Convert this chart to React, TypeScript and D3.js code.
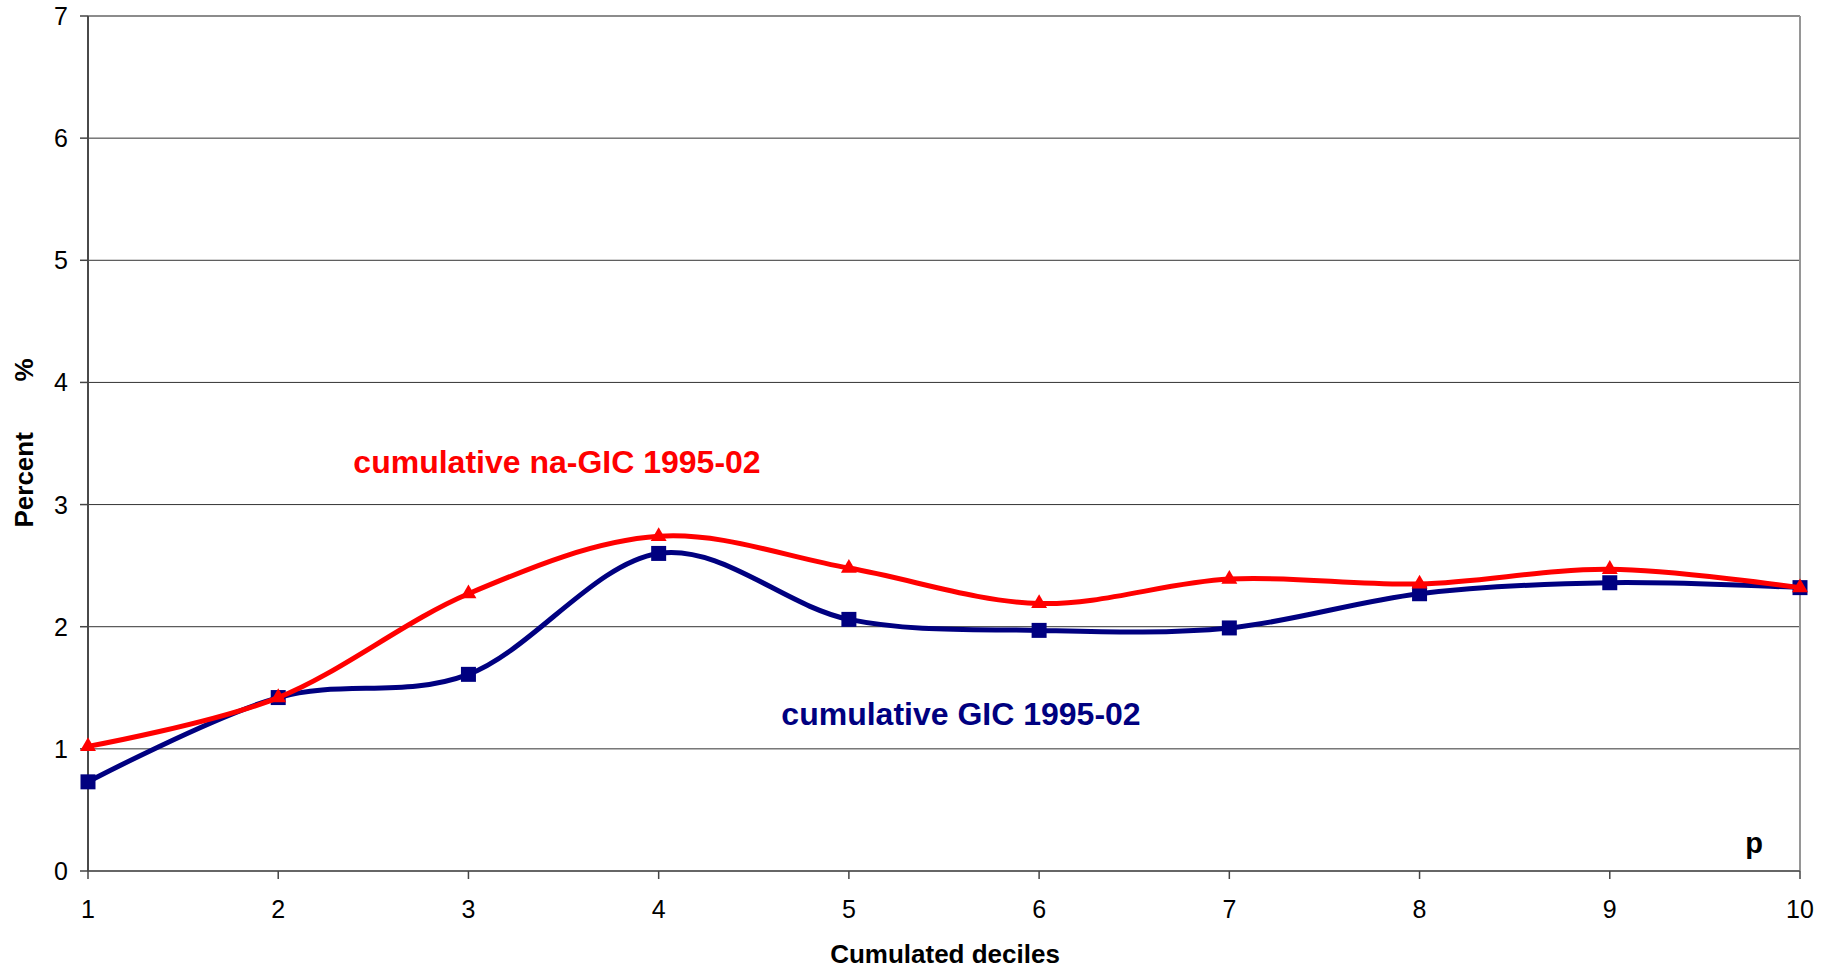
import * as d3 from 'd3';

const DECILES = [1, 2, 3, 4, 5, 6, 7, 8, 9, 10];
const GIC = [0.73, 1.42, 1.61, 2.6, 2.06, 1.97, 1.99, 2.27, 2.36, 2.32];
const NA_GIC = [1.02, 1.42, 2.27, 2.74, 2.48, 2.19, 2.39, 2.35, 2.47, 2.32];
const Y_TICKS = [0, 1, 2, 3, 4, 5, 6, 7];

const WIDTH = 1836;
const HEIGHT = 971;
const FONT = '"Liberation Sans", Arial, sans-serif';

export default function App() {
  const x = d3.scaleLinear().domain([1, 10]).range([88, 1800]);
  const y = d3.scaleLinear().domain([0, 7]).range([871, 16]);

  const line = d3
    .line<number>()
    .x((_, i) => x(DECILES[i]))
    .y((d) => y(d))
    .curve(d3.curveCatmullRom.alpha(0));

  const square = d3.symbol(d3.symbolSquare, 225)()!;
  const triangle = d3.symbol(d3.symbolTriangle, 110)()!;

  return (
    <svg
      width={WIDTH}
      height={HEIGHT}
      style={{ position: 'absolute', left: 0, top: 0, background: '#fff' }}
      fontFamily={FONT}
    >
      {/* gridlines */}
      {Y_TICKS.slice(1, -1).map((t) => (
        <line key={t} x1={x(1)} x2={x(10)} y1={y(t)} y2={y(t)} stroke="#333" strokeWidth={1} />
      ))}

      {/* frame */}
      <line x1={x(1)} x2={x(10)} y1={y(7)} y2={y(7)} stroke="#8c8c8c" strokeWidth={2} />
      <line x1={x(10)} x2={x(10)} y1={y(7)} y2={y(0)} stroke="#969696" strokeWidth={2} />
      <line x1={x(1)} x2={x(10)} y1={y(0)} y2={y(0)} stroke="#666" strokeWidth={2} />
      <line x1={x(1)} x2={x(1)} y1={y(7)} y2={y(0)} stroke="#4a4a4a" strokeWidth={2} />

      {/* y ticks */}
      {Y_TICKS.map((t) => (
        <g key={t}>
          <line x1={x(1) - 8} x2={x(1)} y1={y(t)} y2={y(t)} stroke="#444" strokeWidth={1.5} />
          <text x={x(1) - 20} y={y(t)} dy="0.36em" textAnchor="end" fontSize={25} fill="#000">
            {t}
          </text>
        </g>
      ))}

      {/* x ticks */}
      {DECILES.map((d) => (
        <g key={d}>
          <line x1={x(d)} x2={x(d)} y1={y(0)} y2={y(0) + 8} stroke="#444" strokeWidth={1.5} />
          <text x={x(d)} y={918} textAnchor="middle" fontSize={25} fill="#000">
            {d}
          </text>
        </g>
      ))}

      {/* axis titles */}
      <text x={945} y={963} textAnchor="middle" fontSize={26} fontWeight="bold">
        Cumulated deciles
      </text>
      <g transform="translate(33, 443) rotate(-90)">
        <text x={0} y={0} textAnchor="middle" fontSize={26} fontWeight="bold" style={{ whiteSpace: 'pre' }}>
          {'Percent       %'}
        </text>
      </g>
      <text x={1763} y={853} textAnchor="end" fontSize={29} fontWeight="bold">
        p
      </text>

      {/* GIC series */}
      <path d={line(GIC) ?? ''} fill="none" stroke="#000080" strokeWidth={5} />
      {GIC.map((v, i) => (
        <path key={i} d={square} transform={`translate(${x(DECILES[i])},${y(v)})`} fill="#000080" />
      ))}

      {/* na-GIC series */}
      <path d={line(NA_GIC) ?? ''} fill="none" stroke="#ff0000" strokeWidth={5} />
      {NA_GIC.map((v, i) => (
        <path key={i} d={triangle} transform={`translate(${x(DECILES[i])},${y(v)})`} fill="#ff0000" />
      ))}

      {/* series labels */}
      <text x={557} y={473} textAnchor="middle" fontSize={32} fontWeight="bold" fill="#ff0000">
        cumulative na-GIC 1995-02
      </text>
      <text x={961} y={725} textAnchor="middle" fontSize={32} fontWeight="bold" fill="#000080">
        cumulative GIC 1995-02
      </text>
    </svg>
  );
}
